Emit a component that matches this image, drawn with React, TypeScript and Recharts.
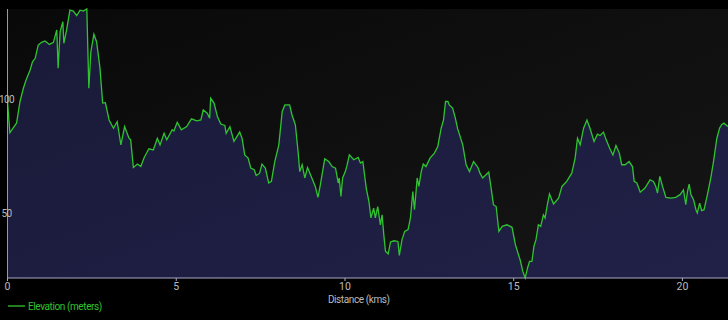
import {
  AreaChart,
  Area,
  XAxis,
  YAxis,
  CartesianGrid,
  Legend,
} from "recharts";

const distanceKm = [
  0, 0.07, 0.17, 0.27, 0.37, 0.47, 0.55, 0.67, 0.74, 0.82, 0.91, 1.01, 1.11, 1.24, 1.36, 1.46, 1.5, 1.56,
  1.64, 1.67, 1.75, 1.85, 1.95, 2.05, 2.15, 2.25, 2.35, 2.41, 2.47, 2.56, 2.64, 2.74, 2.82, 2.9, 3.01,
  3.14, 3.25, 3.36, 3.47, 3.6, 3.65, 3.73, 3.85, 3.95, 4.05, 4.19, 4.32, 4.44, 4.52, 4.64, 4.72, 4.88,
  4.93, 5.03, 5.15, 5.31, 5.45, 5.61, 5.73, 5.8, 5.92, 5.99, 6.02, 6.12, 6.22, 6.32, 6.44, 6.48, 6.59,
  6.71, 6.88, 6.95, 7.03, 7.13, 7.21, 7.31, 7.37, 7.47, 7.54, 7.64, 7.74, 7.82, 7.92, 8.04, 8.14, 8.22,
  8.36, 8.43, 8.53, 8.61, 8.66, 8.73, 8.81, 8.89, 9.0, 9.12, 9.2, 9.27, 9.4, 9.52, 9.62, 9.72, 9.8, 9.83,
  9.88, 9.93, 10.01, 10.06, 10.13, 10.26, 10.39, 10.46, 10.53, 10.63, 10.71, 10.77, 10.85, 10.9, 10.97,
  11.05, 11.1, 11.15, 11.2, 11.28, 11.35, 11.45, 11.57, 11.61, 11.69, 11.77, 11.87, 11.94, 12.01, 12.06,
  12.14, 12.19, 12.26, 12.32, 12.4, 12.52, 12.65, 12.75, 12.85, 12.92, 12.98, 13.05, 13.09, 13.19, 13.27,
  13.34, 13.49, 13.59, 13.69, 13.81, 13.94, 14.0, 14.08, 14.18, 14.26, 14.33, 14.4, 14.48, 14.56, 14.66,
  14.8, 14.95, 15.05, 15.17, 15.19, 15.27, 15.34, 15.41, 15.47, 15.54, 15.6, 15.66, 15.73, 15.8, 15.88,
  15.93, 16.0, 16.06, 16.18, 16.33, 16.43, 16.57, 16.72, 16.82, 16.89, 16.97, 17.07, 17.17, 17.26, 17.38,
  17.48, 17.56, 17.66, 17.74, 17.84, 17.94, 18.03, 18.13, 18.2, 18.3, 18.42, 18.52, 18.57, 18.65, 18.75,
  18.89, 19.04, 19.14, 19.21, 19.26, 19.33, 19.41, 19.51, 19.66, 19.8, 19.93, 20.03, 20.1, 20.15, 20.2,
  20.25, 20.33, 20.4, 20.44, 20.51, 20.57, 20.64, 20.74, 20.84, 20.92, 21.02, 21.1, 21.16, 21.23, 21.31,
  21.35,
];

const elevationM = [
  99, 85.3, 87.4, 89.6, 99, 104.8, 108.4, 112.8, 116.4, 117.9, 123.7, 124.9, 125.5, 124, 124.9, 130.3, 113.6,
  129.6, 133.9, 124.5, 130.3, 139, 138.6, 136.6, 139, 138.6, 139.5, 104.8, 120.8, 128.4, 125.2, 113.6, 98.3,
  98.5, 90.9, 87.3, 90.2, 80, 88, 82.9, 82.2, 70.1, 71.6, 70.5, 74.5, 78.3, 77.8, 82.9, 80, 85.1, 82.2, 86.6,
  86.1, 89.9, 86.6, 88, 91.4, 90.5, 90.9, 95.3, 93.9, 91.7, 100.4, 98.3, 92.4, 89.1, 88.5, 85.1, 88, 81.5,
  85.6, 82.9, 75.6, 74.2, 69.8, 69.1, 66.6, 67.6, 71.6, 69.8, 63.3, 64, 72.7, 80, 94.6, 97.5, 97.5, 93.1,
  88.8, 77.1, 68.3, 71.3, 65.5, 70.1, 66.2, 61.8, 57, 62.5, 73.9, 72.7, 70.5, 69.8, 63.3, 65.5, 57.4, 65.5,
  68.3, 71, 75.6, 73.5, 74.5, 72, 72.7, 61.1, 55.2, 48, 52.3, 48, 53, 45, 49.4, 40.7, 33.4, 32.2, 37.5, 38,
  37.7, 31.6, 38.5, 42.1, 42.9, 48, 59.6, 51.6, 65.5, 61.8, 68.3, 71.6, 70.5, 74.2, 76.4, 79.3, 87.3, 90.9,
  99, 99, 97.5, 96.1, 91.7, 87, 80, 71.3, 68.3, 72.7, 70.1, 67.6, 65.5, 66.9, 68.1, 61.1, 53.8, 53, 42.1,
  44.3, 45, 43.9, 36.3, 30.5, 29.7, 24.6, 21.7, 26.1, 29, 29, 35.6, 38.5, 45, 44.3, 49.4, 48, 54.1, 58.5,
  54.1, 56.7, 61.8, 64, 67.6, 74.2, 82.9, 80, 87.3, 90.9, 87.3, 81.5, 84.7, 84.1, 85.6, 82.2, 78.6, 75.6,
  79.7, 76.4, 71.3, 71.3, 72.7, 70.5, 64, 63.3, 59.3, 61.1, 64.7, 64, 61.8, 58.9, 66.2, 61.8, 57, 56.7, 57,
  58.2, 60.3, 53.8, 59.6, 62.8, 58.2, 56, 51.6, 50.2, 54.5, 51.2, 51.6, 58.2, 65.5, 72.7, 82.9, 87.3, 88.8,
  89.5, 88.5, 88,
];

const xTicks = [0, 5, 10, 15, 20];
const yTicks = [50, 100];

const data = distanceKm.map((d, i) => ({ distance: d, elevation: elevationM[i] }));

const FONT = "Roboto, 'Noto Sans', sans-serif";

// y labels sit on top of the axis line, like the reference
function YTick(props: any) {
  const { y, payload } = props;
  return (
    <text
      x={6.5}
      y={y}
      textAnchor="middle"
      dominantBaseline="central"
      fill="#bbbbbb"
      fontSize={10}
      letterSpacing={-0.6}
      fontFamily={FONT}
    >
      {payload.value}
    </text>
  );
}

function LegendContent() {
  return (
    <div
      style={{
        display: "flex",
        alignItems: "center",
        height: 16,
        fontFamily: FONT,
        fontSize: 10,
        letterSpacing: -0.4,
        color: "#2fc42f",
      }}
    >
      <svg width={20} height={16} style={{ marginLeft: 8 }}>
        <line x1={0} y1={8} x2={17} y2={8} stroke="#2fc42f" strokeWidth={1.3} />
      </svg>
      <span>Elevation (meters)</span>
    </div>
  );
}

export default function App() {
  return (
    <div style={{ position: "absolute", left: 0, top: 0, width: 728, height: 320, background: "#000" }}>
      <AreaChart width={728} height={320} data={data} margin={{ top: 9, right: 0, left: 0, bottom: 0 }}>
        <defs>
          <linearGradient id="bgGrad" x1="0" y1="0" x2="1" y2="1">
            <stop offset="0%" stopColor="#090909" />
            <stop offset="100%" stopColor="#161616" />
          </linearGradient>
          <linearGradient id="areaGrad" x1="0" y1="0" x2="1" y2="1">
            <stop offset="0%" stopColor="#191938" />
            <stop offset="100%" stopColor="#212148" />
          </linearGradient>
        </defs>
        <CartesianGrid fill="url(#bgGrad)" stroke="none" horizontal={false} vertical={false} />
        <XAxis
          dataKey="distance"
          type="number"
          domain={["dataMin", "dataMax"]}
          ticks={xTicks}
          height={24}
          stroke="#a8a8c8"
          tickSize={3}
          tick={{ fill: "#bbbbbb", fontSize: 10.5, fontFamily: FONT }}
          tickLine={{ stroke: "#a8a8c8" }}
          label={{
            value: "Distance (kms)",
            position: "insideBottom",
            offset: -1,
            dx: -9,
            fill: "#bbbbbb",
            fontSize: 10,
            letterSpacing: -0.4,
            fontFamily: FONT,
          }}
        />
        <YAxis
          type="number"
          domain={["dataMin", "dataMax"]}
          ticks={yTicks}
          width={7.5}
          stroke="#999999"
          tickLine={false}
          tick={<YTick />}
        />
        <Legend
          verticalAlign="bottom"
          align="left"
          height={18}
          content={<LegendContent />}
          wrapperStyle={{ bottom: 4, left: 0 }}
        />
        <Area
          type="linear"
          dataKey="elevation"
          stroke="#2fc42f"
          strokeWidth={1.3}
          fill="url(#areaGrad)"
          fillOpacity={1}
          dot={false}
          activeDot={false}
          isAnimationActive={false}
        />
      </AreaChart>
    </div>
  );
}
